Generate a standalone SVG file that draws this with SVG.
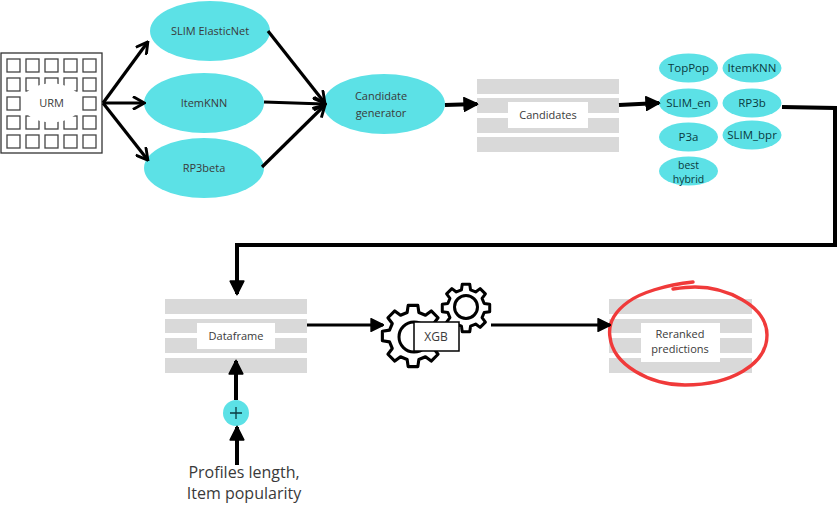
<svg xmlns="http://www.w3.org/2000/svg" width="838" height="508" viewBox="0 0 838 508">
<style>
text{font-family:"Open Sans","Noto Sans",sans-serif;text-anchor:middle;fill:#3a3a3a;font-size:11px}
.e{fill:#5ce1e6}
.d{fill:#0a3a40;font-size:11.500px}
.bar{fill:#d9d9d9}
.w{fill:#fff}
.c{fill:none;stroke:#000;stroke-width:3.200}
.t{stroke-width:4}
.g{fill:#fff;stroke:#000;stroke-linejoin:round}
.s{fill:none;stroke:#444;stroke-width:1.300}
</style>
<defs>
<marker id="a" viewBox="0 0 10 10" refX="8" refY="5" markerWidth="4.500" markerHeight="4.500" orient="auto" markerUnits="strokeWidth"><path d="M1 0.5L9 5L1 9.500" fill="none" stroke="#000" stroke-width="2"/></marker>
<marker id="b" viewBox="0 0 10 10" refX="9" refY="5" markerWidth="4.400" markerHeight="4.400" orient="auto" markerUnits="strokeWidth"><path d="M0.5 0.5L9.500 5L0.500 9.500Z" fill="#000" stroke="#000" stroke-linejoin="round"/></marker>
<marker id="b2" viewBox="0 0 10 10" refX="9" refY="5" markerWidth="3.800" markerHeight="3.800" orient="auto" markerUnits="strokeWidth"><path d="M0.5 0.5L9.500 5L0.500 9.500Z" fill="#000" stroke="#000" stroke-linejoin="round"/></marker>
<path id="gear" d="M-15.600-98.800L15.600-98.800L18.900-75.700L40.200-66.900L58.800-80.900L80.900-58.800L66.900-40.200L75.700-18.900L98.800-15.600L98.800 15.600L75.700 18.900L66.900 40.200L80.900 58.800L58.800 80.900L40.200 66.900L18.900 75.700L15.600 98.800L-15.600 98.800L-18.900 75.700L-40.200 66.900L-58.800 80.900L-80.900 58.800L-66.900 40.200L-75.700 18.900L-98.800 15.600L-98.800-15.600L-75.700-18.900L-66.900-40.200L-80.900-58.800L-58.800-80.900L-40.200-66.900L-18.900-75.700Z"/>
</defs>
<rect width="838" height="508" fill="#fff"/>

<g id="urm">
<rect x="1" y="53" width="101" height="100" fill="#fff" stroke="#333" stroke-width="1.300"/>
<g class="s">
<rect x="7" y="59" width="13" height="13"/><rect x="26" y="59" width="13" height="13"/><rect x="45" y="59" width="13" height="13"/><rect x="64" y="59" width="13" height="13"/><rect x="83" y="59" width="13" height="13"/>
<rect x="7" y="78" width="13" height="13"/><rect x="26" y="78" width="13" height="13"/><rect x="45" y="78" width="13" height="13"/><rect x="64" y="78" width="13" height="13"/><rect x="83" y="78" width="13" height="13"/>
<rect x="7" y="97" width="13" height="13"/><rect x="83" y="97" width="13" height="13"/>
<rect x="7" y="116" width="13" height="13"/><rect x="26" y="116" width="13" height="13"/><rect x="45" y="116" width="13" height="13"/><rect x="64" y="116" width="13" height="13"/><rect x="83" y="116" width="13" height="13"/>
<rect x="7" y="135" width="13" height="13"/><rect x="26" y="135" width="13" height="13"/><rect x="45" y="135" width="13" height="13"/><rect x="64" y="135" width="13" height="13"/><rect x="83" y="135" width="13" height="13"/>
</g>
<ellipse cx="51.500" cy="103" rx="30" ry="19.500" fill="#fff"/>
<text x="51.500" y="107">URM</text>
</g>

<g id="slim-elasticnet"><ellipse class="e" cx="210" cy="31" rx="60" ry="30"/><text x="210" y="35">SLIM ElasticNet</text></g>
<g id="itemknn"><ellipse class="e" cx="204" cy="103" rx="60" ry="30"/><text x="204" y="107">ItemKNN</text></g>
<g id="rp3beta"><ellipse class="e" cx="204" cy="168" rx="60" ry="30"/><text x="204" y="172">RP3beta</text></g>
<g id="candidate-generator"><ellipse class="e" cx="384" cy="104" rx="61" ry="30"/><text x="381" y="100">Candidate</text><text x="381" y="117">generator</text></g>

<g id="candidates">
<rect class="bar" x="477" y="79" width="142" height="15"/><rect class="bar" x="477" y="98" width="142" height="15"/><rect class="bar" x="477" y="118" width="142" height="15"/><rect class="bar" x="477" y="137" width="142" height="15"/>
<rect class="w" x="508" y="102" width="80" height="26"/><text x="548" y="119">Candidates</text>
</g>

<g id="toppop"><ellipse class="e" cx="688.500" cy="68" rx="29.500" ry="14.500"/><text class="d" x="688.500" y="72">TopPop</text></g>
<g id="itemknn-2"><ellipse class="e" cx="752" cy="68" rx="29.500" ry="14.500"/><text class="d" x="752" y="72">ItemKNN</text></g>
<g id="slim-en"><ellipse class="e" cx="688.500" cy="103" rx="29.500" ry="14.500"/><text class="d" x="688.500" y="107">SLIM_en</text></g>
<g id="rp3b"><ellipse class="e" cx="752" cy="103" rx="29.500" ry="14.500"/><text class="d" x="752" y="107">RP3b</text></g>
<g id="p3a"><ellipse class="e" cx="688.500" cy="137" rx="29.500" ry="14.500"/><text class="d" x="688.500" y="141">P3a</text></g>
<g id="slim-bpr"><ellipse class="e" cx="752" cy="135" rx="29.500" ry="14.500"/><text class="d" x="752" y="139">SLIM_bpr</text></g>
<g id="best-hybrid"><ellipse class="e" cx="688.500" cy="171" rx="29.500" ry="14.500"/><text class="d" x="688.500" y="169" style="font-size:10.500px">best</text><text class="d" x="688.500" y="183" style="font-size:10.500px">hybrid</text></g>

<g id="dataframe">
<rect class="bar" x="165" y="299" width="142" height="15"/><rect class="bar" x="165" y="319" width="142" height="14"/><rect class="bar" x="165" y="338" width="142" height="15"/><rect class="bar" x="165" y="358" width="142" height="15"/>
<rect class="w" x="197" y="323" width="78" height="26"/><text x="236" y="340">Dataframe</text>
</g>

<g id="plus"><circle class="e" cx="236" cy="413" r="13"/><path d="M230 413H242M236 407V419" stroke="#0a3a40" stroke-width="1.300" fill="none"/></g>
<g id="profiles"><text x="244" y="478" style="font-size:16px">Profiles length,</text><text x="244" y="499" style="font-size:16px">Item popularity</text></g>

<g id="xgb">
<use href="#gear" class="g" stroke-width="10" transform="translate(413 336) scale(.31)"/>
<circle cx="414" cy="337" r="15" fill="none" stroke="#000" stroke-width="3"/>
<use href="#gear" class="g" stroke-width="12.500" transform="translate(466 308) scale(.24)"/>
<circle cx="466" cy="307" r="11.500" fill="none" stroke="#000" stroke-width="3"/>
<rect x="414" y="322" width="45" height="29" fill="#fff" stroke="#000" stroke-width="1.500"/>
<text x="436" y="341" style="font-size:12px">XGB</text>
</g>

<g id="reranked">
<rect class="bar" x="609" y="299" width="143" height="15"/><rect class="bar" x="609" y="319" width="143" height="14"/><rect class="bar" x="609" y="338" width="143" height="15"/><rect class="bar" x="609" y="358" width="143" height="15"/>
<rect class="w" x="641" y="323" width="79" height="39"/><text x="680" y="338">Reranked</text><text x="680" y="353">predictions</text>
</g>
<path id="red-ring" fill="none" stroke="#f03a3a" stroke-width="3.400" stroke-linecap="round" d="M693 282C665 285 640 293 628 302C613 313 608 325 610 337C613 365 650 385 685 385C730 385 767 365 767 335C767 305 725 287 695 287C688 287 680 288 673 289"/>

<g id="connectors">
<path class="c" marker-end="url(#a)" d="M103 103L147 43"/>
<path class="c" marker-end="url(#a)" d="M103 103L143 103"/>
<path class="c" marker-end="url(#a)" d="M103 103L147 159"/>
<path class="c" marker-end="url(#a)" d="M268 31L324 102"/>
<path class="c" marker-end="url(#a)" d="M264 102L324 104"/>
<path class="c" marker-end="url(#a)" d="M262 167L324 106"/>
<path class="c t" marker-end="url(#b2)" d="M445 105L477 104"/>
<path class="c t" marker-end="url(#b2)" d="M619 105L659 103"/>
<path class="c t" d="M782 107L835 108L835 245L237 245L237 294" marker-end="url(#b2)"/>
<path class="c" marker-end="url(#b)" d="M307 325L383 325"/>
<path class="c" marker-end="url(#b)" d="M491 325L610 325"/>
<path class="c t" marker-end="url(#b2)" d="M236 400L236 361"/>
<path class="c t" marker-end="url(#b2)" d="M237 465L237 427"/>
</g>
</svg>
